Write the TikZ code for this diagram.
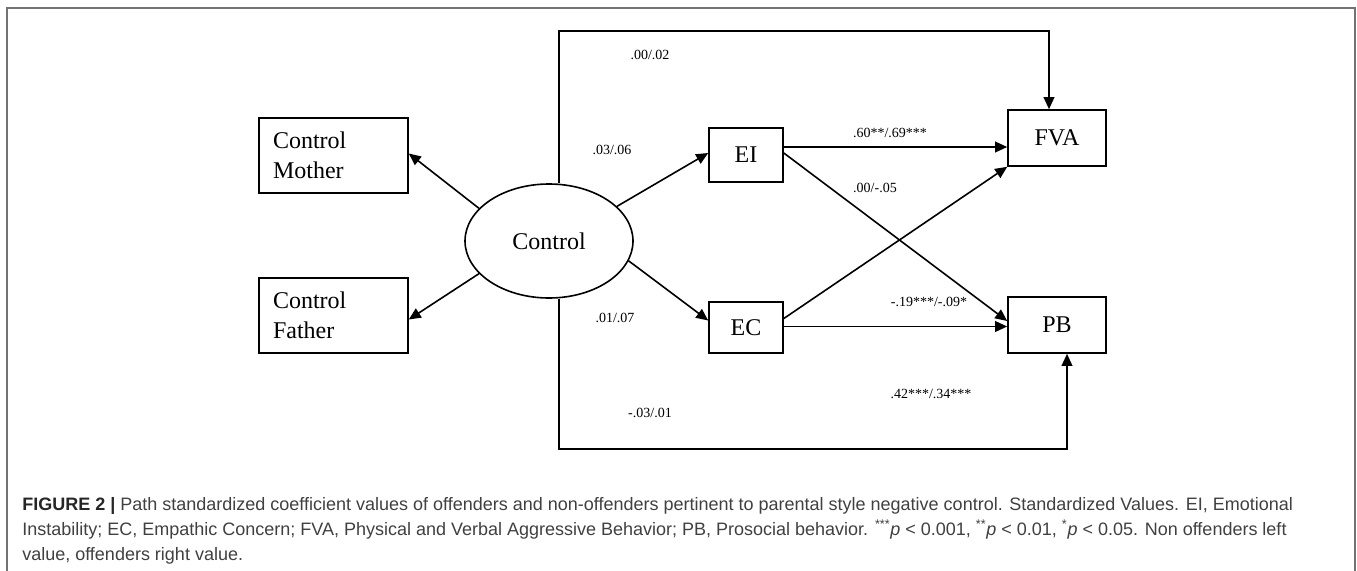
\documentclass[tikz,border=0pt]{standalone}
\usepackage{fontspec}
\setmainfont{Liberation Serif}
\newfontfamily\capfont{Liberation Sans}
\usetikzlibrary{arrows.meta,shapes.geometric,calc}
\begin{document}
\begin{tikzpicture}[x=0.75pt,y=-0.75pt,
  lat/.style={draw,line width=1.2pt,ellipse,minimum width=126pt,minimum height=85.5pt,inner sep=0pt,font=\fontsize{18}{22}\selectfont},
  obs/.style={draw,line width=1.2pt,rectangle,inner sep=0pt,font=\fontsize{18}{22}\selectfont},
  ind/.style={obs,align=left,text width=90.75pt,inner xsep=10.5pt,minimum height=56.25pt,font=\fontsize{18}{22.5}\selectfont},
  coef/.style={inner sep=0pt,font=\fontsize{10.5}{12}\selectfont},
  arr/.style={line width=1.2pt,-{Triangle[length=9pt,width=8pt]}},
  capline/.style={anchor=base west,inner sep=0pt,text=black!75,font=\capfont\fontsize{13.5}{16}\selectfont}]
\useasboundingbox (0,0) rectangle (1357,571);
\draw[black!55,line width=0.9pt] (7,571) -- (7,8) -- (1355,8) -- (1355,571);

\node[ind] (mother) at (333.5,155.5) {Control\\Mother};
\node[ind] (father) at (333.5,315.5) {Control\\Father};
\node[lat] (ctrl) at (549,241) {Control};
\node[obs,minimum width=55.5pt,minimum height=40.5pt] (EI) at (746,155) {EI};
\node[obs,minimum width=55.5pt,minimum height=38pt] (EC) at (746,327.5) {EC};
\node[obs,minimum width=73.5pt,minimum height=42pt] (FVA) at (1057,138) {FVA};
\node[obs,minimum width=73.5pt,minimum height=42pt] (PB) at (1057,325) {PB};

\draw[arr] (ctrl.155) -- ($(mother.east)+(0,-2)$);
\draw[arr] (ctrl.205) -- ($(father.east)+(0,4)$);
\draw[arr] (ctrl.27) -- ($(EI.west)+(0,-2)$);
\draw[arr] (ctrl.-14) -- ($(EC.west)+(0,-7)$);

\coordinate (eiout) at ($(EI.east)+(0,-8)$);
\draw[arr] (eiout) -- (eiout -| FVA.west);
\draw[arr] ($(EI.east)+(0,-2)$) -- ($(PB.west)+(0,-4)$);
\draw[arr] ($(EC.east)+(0,-9)$) -- (FVA.south west);
\coordinate (ecout) at ($(EC.east)+(0,-1)$);
\draw[arr] (ecout) -- (ecout -| PB.west);

\draw[arr] ($(ctrl.north)+(10,0)$) -- ++(0,-152) -| ($(FVA.north)+(-8,0)$);
\draw[arr] ($(ctrl.south)+(10,0)$) -- ++(0,150) -| ($(PB.south)+(10,0)$);

\node[coef] (l1) at (650,55) {.00/.02};
\node[coef] (l2) at (612,150) {.03/.06};
\node[coef] (l3) at (890,133) {.60**/.69***};
\node[coef] (l4) at (875,188) {.00/-.05};
\node[coef] (l5) at (929,302) {-.19***/-.09*};
\node[coef] (l6) at (615,318) {.01/.07};
\node[coef] (l7) at (931,394) {.42***/.34***};
\node[coef] (l8) at (650,413) {-.03/.01};

\node[capline] (cap1) at (22,510) {{\bfseries\color{black!85}FIGURE 2 |} Path standardized coefficient values of offenders and non-offenders pertinent to parental style negative control. Standardized Values. EI, Emotional};
\node[capline] (cap2) at (22,535) {Instability; EC, Empathic Concern; FVA, Physical and Verbal Aggressive Behavior; PB, Prosocial behavior. \textsuperscript{***}\textit{p} {\textless} 0.001, \textsuperscript{**}\textit{p} {\textless} 0.01, \textsuperscript{*}\textit{p} {\textless} 0.05. Non offenders left};
\node[capline] (cap3) at (22,560) {value, offenders right value.};
\end{tikzpicture}
\end{document}
